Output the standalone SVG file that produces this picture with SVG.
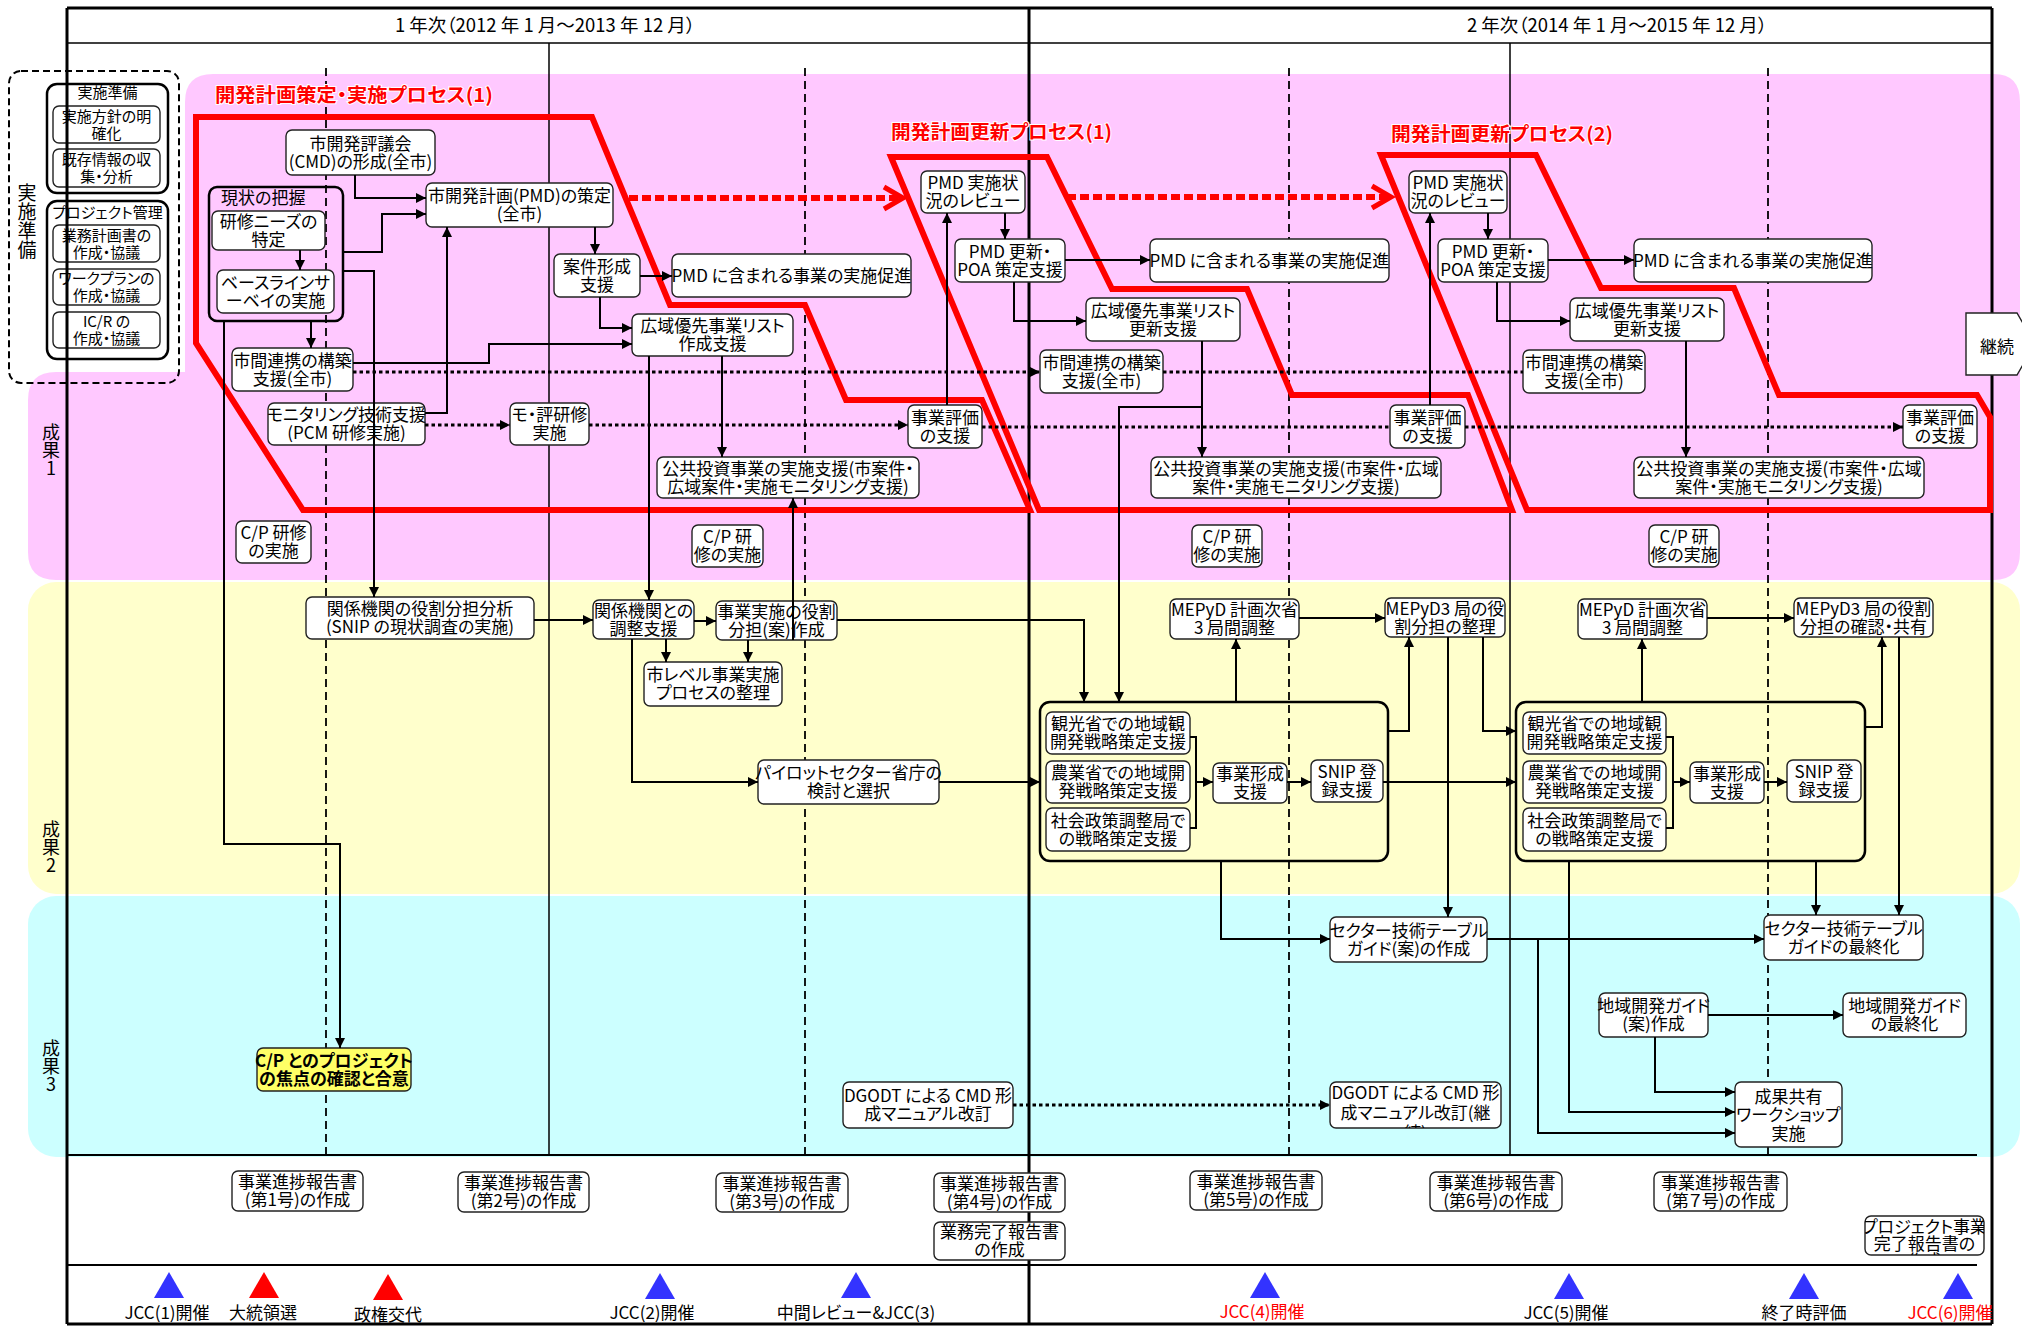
<svg xmlns="http://www.w3.org/2000/svg" width="2022" height="1330" viewBox="0 0 2022 1330">
<style>
.t{font-family:"Noto Sans CJK JP","Noto Sans",sans-serif;font-size:17px;text-anchor:middle;fill:#000;font-feature-settings:"palt"}
.s{font-size:15px}
.vl{font-family:"Noto Sans CJK JP","Noto Sans",sans-serif;font-size:18px;fill:#000;writing-mode:vertical-rl;text-orientation:upright;text-anchor:start}
.ttl{font-family:"Noto Sans CJK JP","Noto Sans",sans-serif;font-size:19px;font-weight:700;fill:#ff0000;stroke:#fff;stroke-width:2;paint-order:stroke;font-feature-settings:"palt"}
.n rect,.n polygon{fill:#fff;stroke:#222;stroke-width:1.4}
.grp rect{fill:none;stroke:#000;stroke-width:2.5}
.c path{fill:none;stroke:#000;stroke-width:2}
.c .dot{stroke-width:3;stroke-dasharray:3.5 3}
.proc{fill:none;stroke:#ff0000;stroke-width:6;stroke-linejoin:miter}
.rdot{fill:none;stroke:#ff0000;stroke-width:6;stroke-dasharray:9 4}
.chev{fill:none;stroke:#ff0000;stroke-width:5}
.dash{stroke:#000;stroke-width:1.8;stroke-dasharray:8 5}
.thin{stroke:#000;stroke-width:1.5}
.frame{stroke:#000;stroke-width:3;fill:none}
</style>
<defs>
<marker id="ah" viewBox="0 0 10 10" refX="10" refY="5" markerWidth="11" markerHeight="10" markerUnits="userSpaceOnUse" orient="auto">
<path d="M0,0 L10,5 L0,10 z" fill="#000"/>
</marker>
<clipPath id="clipD2"><rect x="1330" y="1082" width="171" height="46" rx="6"/></clipPath>
<clipPath id="clipPJ"><rect x="1865" y="1216" width="119" height="39" rx="6"/></clipPath>
</defs>

<rect x="0" y="0" width="2022" height="1330" fill="#fff"/>

<!-- output bands -->
<g id="bands">
<path d="M213,74 H1994 Q2020,74 2020,102 V552 Q2020,580 1994,580 H56 Q28,580 28,552 V400 Q28,372 56,372 H185 V102 Q185,74 213,74 Z" fill="#ffc8ff"/>
<rect x="28" y="582" width="1992" height="312" rx="28" fill="#ffffcc"/>
<rect x="28" y="896" width="1992" height="261" rx="28" fill="#ccffff"/>
</g>

<!-- side labels, set vertically -->
<g id="side-labels">
<text class="vl" x="27" y="183" style="font-size:19px">実施準備</text>
<text class="vl" x="51" y="423">成果1</text>
<text class="vl" x="51" y="820">成果2</text>
<text class="vl" x="51" y="1039">成果3</text>
</g>

<!-- frame and header -->
<g id="frame">
<line x1="67" y1="8" x2="1992" y2="8" class="frame"/>
<line x1="67" y1="43" x2="1992" y2="43" class="thin"/>
<line x1="67" y1="1155" x2="1977" y2="1155" stroke="#000" stroke-width="2"/>
<line x1="67" y1="1265" x2="1977" y2="1265" stroke="#000" stroke-width="2"/>
<line x1="67" y1="1324" x2="1992" y2="1324" class="frame"/>
<line x1="1992" y1="8" x2="1992" y2="1324" class="frame"/>
<line x1="1029" y1="8" x2="1029" y2="1324" class="frame"/>
<text class="t" x="545" y="32" style="font-size:18.5px">1 年次（2012 年 1 月～2013 年 12 月）</text>
<text class="t" x="1617" y="32" style="font-size:18.5px">2 年次（2014 年 1 月～2015 年 12 月）</text>
</g>

<!-- period grid -->
<g id="grid">
<line x1="326" y1="68" x2="326" y2="1155" class="dash"/>
<line x1="805" y1="68" x2="805" y2="1155" class="dash"/>
<line x1="1289" y1="68" x2="1289" y2="1155" class="dash"/>
<line x1="1768" y1="68" x2="1768" y2="1155" class="dash"/>
<line x1="549" y1="43" x2="549" y2="1155" class="thin"/>
<line x1="1510" y1="43" x2="1510" y2="1155" class="thin"/>
</g>

<!-- preparation block -->
<g id="prep">
<rect x="9" y="71" width="170" height="312" rx="12" fill="none" stroke="#000" stroke-width="2" stroke-dasharray="7 4"/>
<g id="prep-a" class="n grp">
<rect x="47" y="84" width="121" height="109" rx="10"/>
<text class="t s" x="107.5" y="98">実施準備</text>
</g>
<g id="prep-a1" class="n"><rect x="53" y="106" width="107" height="37" rx="6"/><text class="t s"><tspan x="106.5" y="121.5">実施方針の明</tspan><tspan x="106.5" y="138.5">確化</tspan></text></g>
<g id="prep-a2" class="n"><rect x="53" y="149" width="107" height="38" rx="6"/><text class="t s"><tspan x="106.5" y="165">既存情報の収</tspan><tspan x="106.5" y="182">集・分析</tspan></text></g>
<g id="prep-b" class="n grp">
<rect x="47" y="201" width="121" height="158" rx="10"/>
<text class="t s" x="107.5" y="218">プロジェクト管理</text>
</g>
<g id="prep-b1" class="n"><rect x="53" y="225" width="107" height="37" rx="6"/><text class="t s"><tspan x="106.5" y="240.5">業務計画書の</tspan><tspan x="106.5" y="257.5">作成・協議</tspan></text></g>
<g id="prep-b2" class="n"><rect x="53" y="269" width="107" height="36" rx="6"/><text class="t s"><tspan x="106.5" y="284">ワークプランの</tspan><tspan x="106.5" y="301">作成・協議</tspan></text></g>
<g id="prep-b3" class="n"><rect x="53" y="312" width="107" height="36" rx="6"/><text class="t s"><tspan x="106.5" y="327">IC/R の</tspan><tspan x="106.5" y="344">作成・協議</tspan></text></g>
</g>

<!-- process outlines -->
<g id="processes">
<path class="proc" d="M196,117 L592,117 L670,305 L805,305 L846,400 L982,400 L1030,510 L303,510 L196,343 Z"/>
<path class="proc" d="M891,157 L1047,157 L1112,289 L1247,289 L1292,395 L1468,395 L1512,510 L1039,510 Z"/>
<path class="proc" d="M1381,155 L1536,155 L1601,288 L1734,288 L1779,395 L1977,395 L1990,417 L1990,510 L1527,510 Z"/>
<path class="rdot" d="M629,198 H900"/>
<polyline class="chev" points="884,187 903,198 884,209"/>
<path class="rdot" d="M1067,197 H1388"/>
<polyline class="chev" points="1372,186 1391,197 1372,208"/>
<text class="ttl" x="215" y="102" textLength="278" lengthAdjust="spacingAndGlyphs">開発計画策定・実施プロセス(1)</text>
<text class="ttl" x="891" y="139" textLength="221" lengthAdjust="spacingAndGlyphs">開発計画更新プロセス(1)</text>
<text class="ttl" x="1391" y="141" textLength="222" lengthAdjust="spacingAndGlyphs">開発計画更新プロセス(2)</text>
</g>

<!-- output 1 nodes -->
<g id="n-cmd" class="n"><rect x="286" y="130" width="149" height="45" rx="6"/><text class="t"><tspan x="360.5" y="149.5">市開発評議会</tspan><tspan x="360.5" y="167.5">(CMD)の形成(全市)</tspan></text></g>
<g id="n-pmd" class="n"><rect x="426" y="183" width="187" height="44" rx="6"/><text class="t"><tspan x="519.5" y="202">市開発計画(PMD)の策定</tspan><tspan x="519.5" y="220">(全市)</tspan></text></g>
<g id="n-genjo" class="n grp"><rect x="209" y="187" width="134" height="134" rx="8"/><text class="t" x="221" y="204" style="text-anchor:start">現状の把握</text></g>
<g id="n-kenshu" class="n"><rect x="212" y="211" width="113" height="39" rx="6"/><text class="t"><tspan x="268.5" y="227.5">研修ニーズの</tspan><tspan x="268.5" y="245.5">特定</tspan></text></g>
<g id="n-baseline" class="n"><rect x="217" y="270" width="117" height="43" rx="6"/><text class="t"><tspan x="275.5" y="288.5">ベースラインサ</tspan><tspan x="275.5" y="306.5">ーベイの実施</tspan></text></g>
<g id="n-anken1" class="n"><rect x="554" y="254" width="86" height="43" rx="6"/><text class="t"><tspan x="597" y="272.5">案件形成</tspan><tspan x="597" y="290.5">支援</tspan></text></g>
<g id="n-sokushin1" class="n"><rect x="672" y="254" width="239" height="43" rx="6"/><text class="t" x="791.5" y="281.5">PMD に含まれる事業の実施促進</text></g>
<g id="n-koiki1" class="n"><rect x="632" y="314" width="161" height="42" rx="6"/><text class="t"><tspan x="712.5" y="332">広域優先事業リスト</tspan><tspan x="712.5" y="350">作成支援</tspan></text></g>
<g id="n-shikan1" class="n"><rect x="232" y="348" width="121" height="43" rx="6"/><text class="t"><tspan x="292.5" y="366.5">市間連携の構築</tspan><tspan x="292.5" y="384.5">支援(全市)</tspan></text></g>
<g id="n-monitor" class="n"><rect x="268" y="403" width="157" height="42" rx="6"/><text class="t"><tspan x="346.5" y="421">モニタリング技術支援</tspan><tspan x="346.5" y="439">(PCM 研修実施)</tspan></text></g>
<g id="n-moha" class="n"><rect x="510" y="403" width="79" height="42" rx="6"/><text class="t"><tspan x="549.5" y="421">モ・評研修</tspan><tspan x="549.5" y="439">実施</tspan></text></g>
<g id="n-hyoka1" class="n"><rect x="908" y="405" width="74" height="43" rx="6"/><text class="t"><tspan x="945" y="423.5">事業評価</tspan><tspan x="945" y="441.5">の支援</tspan></text></g>
<g id="n-kokyo1" class="n"><rect x="657" y="457" width="262" height="41" rx="6"/><text class="t"><tspan x="788" y="474.5">公共投資事業の実施支援(市案件・</tspan><tspan x="788" y="492.5">広域案件・実施モニタリング支援)</tspan></text></g>
<g id="n-cp1" class="n"><rect x="236" y="521" width="75" height="42" rx="6"/><text class="t"><tspan x="273.5" y="539">C/P 研修</tspan><tspan x="273.5" y="557">の実施</tspan></text></g>
<g id="n-cp2" class="n"><rect x="692" y="525" width="71" height="42" rx="6"/><text class="t"><tspan x="727.5" y="543">C/P 研</tspan><tspan x="727.5" y="561">修の実施</tspan></text></g>
<g id="n-review1" class="n"><rect x="921" y="171" width="104" height="42" rx="6"/><text class="t"><tspan x="973" y="189">PMD 実施状</tspan><tspan x="973" y="207">況のレビュー</tspan></text></g>
<g id="n-koshin1" class="n"><rect x="955" y="239" width="110" height="43" rx="6"/><text class="t"><tspan x="1010" y="257.5">PMD 更新・</tspan><tspan x="1010" y="275.5">POA 策定支援</tspan></text></g>
<g id="n-sokushin2" class="n"><rect x="1150" y="239" width="239" height="43" rx="6"/><text class="t" x="1269.5" y="266.5">PMD に含まれる事業の実施促進</text></g>
<g id="n-koiki2" class="n"><rect x="1086" y="298" width="154" height="43" rx="6"/><text class="t"><tspan x="1163" y="316.5">広域優先事業リスト</tspan><tspan x="1163" y="334.5">更新支援</tspan></text></g>
<g id="n-shikan2" class="n"><rect x="1040" y="350" width="123" height="43" rx="6"/><text class="t"><tspan x="1101.5" y="368.5">市間連携の構築</tspan><tspan x="1101.5" y="386.5">支援(全市)</tspan></text></g>
<g id="n-kokyo2" class="n"><rect x="1151" y="457" width="290" height="41" rx="6"/><text class="t"><tspan x="1296" y="474.5">公共投資事業の実施支援(市案件・広域</tspan><tspan x="1296" y="492.5">案件・実施モニタリング支援)</tspan></text></g>
<g id="n-cp3" class="n"><rect x="1192" y="525" width="70" height="42" rx="6"/><text class="t"><tspan x="1227" y="543">C/P 研</tspan><tspan x="1227" y="561">修の実施</tspan></text></g>
<g id="n-review2" class="n"><rect x="1409" y="171" width="98" height="42" rx="6"/><text class="t"><tspan x="1458" y="189">PMD 実施状</tspan><tspan x="1458" y="207">況のレビュー</tspan></text></g>
<g id="n-koshin2" class="n"><rect x="1438" y="239" width="110" height="43" rx="6"/><text class="t"><tspan x="1493" y="257.5">PMD 更新・</tspan><tspan x="1493" y="275.5">POA 策定支援</tspan></text></g>
<g id="n-sokushin3" class="n"><rect x="1634" y="239" width="238" height="43" rx="6"/><text class="t" x="1753" y="266.5">PMD に含まれる事業の実施促進</text></g>
<g id="n-koiki3" class="n"><rect x="1570" y="298" width="154" height="43" rx="6"/><text class="t"><tspan x="1647" y="316.5">広域優先事業リスト</tspan><tspan x="1647" y="334.5">更新支援</tspan></text></g>
<g id="n-shikan3" class="n"><rect x="1523" y="350" width="122" height="43" rx="6"/><text class="t"><tspan x="1584" y="368.5">市間連携の構築</tspan><tspan x="1584" y="386.5">支援(全市)</tspan></text></g>
<g id="n-hyoka2" class="n"><rect x="1390" y="405" width="75" height="43" rx="6"/><text class="t"><tspan x="1427.5" y="423.5">事業評価</tspan><tspan x="1427.5" y="441.5">の支援</tspan></text></g>
<g id="n-hyoka3" class="n"><rect x="1903" y="405" width="74" height="43" rx="6"/><text class="t"><tspan x="1940" y="423.5">事業評価</tspan><tspan x="1940" y="441.5">の支援</tspan></text></g>
<g id="n-kokyo3" class="n"><rect x="1634" y="457" width="290" height="41" rx="6"/><text class="t"><tspan x="1779" y="474.5">公共投資事業の実施支援(市案件・広域</tspan><tspan x="1779" y="492.5">案件・実施モニタリング支援)</tspan></text></g>
<g id="n-cp4" class="n"><rect x="1649" y="525" width="70" height="42" rx="6"/><text class="t"><tspan x="1684" y="543">C/P 研</tspan><tspan x="1684" y="561">修の実施</tspan></text></g>
<g id="n-keizoku" class="n"><polygon points="1966,313 2017,313 2035,344 2017,375 1966,375"/><text class="t" x="1997" y="353">継続</text></g>

<!-- output 2 nodes -->
<g id="n-yakuwari" class="n"><rect x="306" y="597" width="228" height="42" rx="6"/><text class="t"><tspan x="420" y="615">関係機関の役割分担分析</tspan><tspan x="420" y="633">(SNIP の現状調査の実施)</tspan></text></g>
<g id="n-chosei" class="n"><rect x="593" y="600" width="101" height="39" rx="6"/><text class="t"><tspan x="643.5" y="616.5">関係機関との</tspan><tspan x="643.5" y="634.5">調整支援</tspan></text></g>
<g id="n-jigyo" class="n"><rect x="716" y="601" width="121" height="39" rx="6"/><text class="t"><tspan x="776.5" y="617.5">事業実施の役割</tspan><tspan x="776.5" y="635.5">分担(案)作成</tspan></text></g>
<g id="n-shilevel" class="n"><rect x="644" y="662" width="138" height="44" rx="6"/><text class="t"><tspan x="713" y="681">市レベル事業実施</tspan><tspan x="713" y="699">プロセスの整理</tspan></text></g>
<g id="n-pilot" class="n"><rect x="758" y="760" width="181" height="44" rx="6"/><text class="t"><tspan x="848.5" y="779">パイロットセクター省庁の</tspan><tspan x="848.5" y="797">検討と選択</tspan></text></g>
<g id="n-grp1" class="grp"><rect x="1040" y="702" width="348" height="159" rx="10"/></g>
<g id="n-kanko1" class="n"><rect x="1046" y="712" width="144" height="42" rx="6"/><text class="t"><tspan x="1118" y="730">観光省での地域観</tspan><tspan x="1118" y="748">開発戦略策定支援</tspan></text></g>
<g id="n-nogyo1" class="n"><rect x="1046" y="761" width="144" height="42" rx="6"/><text class="t"><tspan x="1118" y="779">農業省での地域開</tspan><tspan x="1118" y="797">発戦略策定支援</tspan></text></g>
<g id="n-shakai1" class="n"><rect x="1046" y="808" width="144" height="43" rx="6"/><text class="t"><tspan x="1118" y="826.5">社会政策調整局で</tspan><tspan x="1118" y="844.5">の戦略策定支援</tspan></text></g>
<g id="n-keisei1" class="n"><rect x="1213" y="763" width="74" height="40" rx="6"/><text class="t"><tspan x="1250" y="780">事業形成</tspan><tspan x="1250" y="798">支援</tspan></text></g>
<g id="n-snip1" class="n"><rect x="1311" y="760" width="72" height="42" rx="6"/><text class="t"><tspan x="1347" y="778">SNIP 登</tspan><tspan x="1347" y="796">録支援</tspan></text></g>
<g id="n-mepyd1" class="n"><rect x="1170" y="599" width="129" height="40" rx="6"/><text class="t"><tspan x="1234.5" y="616">MEPyD 計画次省</tspan><tspan x="1234.5" y="634">3 局間調整</tspan></text></g>
<g id="n-mepyd3a" class="n"><rect x="1385" y="598" width="120" height="39" rx="6"/><text class="t"><tspan x="1445" y="614.5">MEPyD3 局の役</tspan><tspan x="1445" y="632.5">割分担の整理</tspan></text></g>
<g id="n-grp2" class="grp"><rect x="1516" y="702" width="349" height="159" rx="10"/></g>
<g id="n-kanko2" class="n"><rect x="1523" y="712" width="143" height="42" rx="6"/><text class="t"><tspan x="1594.5" y="730">観光省での地域観</tspan><tspan x="1594.5" y="748">開発戦略策定支援</tspan></text></g>
<g id="n-nogyo2" class="n"><rect x="1523" y="761" width="143" height="42" rx="6"/><text class="t"><tspan x="1594.5" y="779">農業省での地域開</tspan><tspan x="1594.5" y="797">発戦略策定支援</tspan></text></g>
<g id="n-shakai2" class="n"><rect x="1523" y="808" width="143" height="43" rx="6"/><text class="t"><tspan x="1594.5" y="826.5">社会政策調整局で</tspan><tspan x="1594.5" y="844.5">の戦略策定支援</tspan></text></g>
<g id="n-keisei2" class="n"><rect x="1690" y="762" width="74" height="41" rx="6"/><text class="t"><tspan x="1727" y="779.5">事業形成</tspan><tspan x="1727" y="797.5">支援</tspan></text></g>
<g id="n-snip2" class="n"><rect x="1787" y="760" width="74" height="42" rx="6"/><text class="t"><tspan x="1824" y="778">SNIP 登</tspan><tspan x="1824" y="796">録支援</tspan></text></g>
<g id="n-mepyd2" class="n"><rect x="1578" y="599" width="129" height="40" rx="6"/><text class="t"><tspan x="1642.5" y="616">MEPyD 計画次省</tspan><tspan x="1642.5" y="634">3 局間調整</tspan></text></g>
<g id="n-mepyd3b" class="n"><rect x="1794" y="598" width="139" height="39" rx="6"/><text class="t"><tspan x="1863.5" y="614.5">MEPyD3 局の役割</tspan><tspan x="1863.5" y="632.5">分担の確認・共有</tspan></text></g>

<!-- output 3 nodes -->
<g id="n-cpfocus" class="n"><rect x="257" y="1048" width="154" height="43" rx="6" style="fill:#ffff66"/><text class="t" style="font-weight:700"><tspan x="334" y="1066.5">C/P とのプロジェクト</tspan><tspan x="334" y="1084.5">の焦点の確認と合意</tspan></text></g>
<g id="n-dgodt1" class="n"><rect x="843" y="1082" width="170" height="46" rx="6"/><text class="t"><tspan x="928" y="1102">DGODT による CMD 形</tspan><tspan x="928" y="1120">成マニュアル改訂</tspan></text></g>
<g id="n-dgodt2" class="n"><rect x="1330" y="1082" width="171" height="46" rx="6"/><text class="t" clip-path="url(#clipD2)"><tspan x="1415.5" y="1099">DGODT による CMD 形</tspan><tspan x="1415.5" y="1119">成マニュアル改訂(継</tspan><tspan x="1415.5" y="1139">続)</tspan></text></g>
<g id="n-sector1" class="n"><rect x="1330" y="917" width="157" height="45" rx="6"/><text class="t"><tspan x="1408.5" y="936.5">セクター技術テーブル</tspan><tspan x="1408.5" y="954.5">ガイド(案)の作成</tspan></text></g>
<g id="n-sector2" class="n"><rect x="1764" y="915" width="159" height="45" rx="6"/><text class="t"><tspan x="1843.5" y="934.5">セクター技術テーブル</tspan><tspan x="1843.5" y="952.5">ガイドの最終化</tspan></text></g>
<g id="n-chiiki1" class="n"><rect x="1599" y="993" width="109" height="44" rx="6"/><text class="t"><tspan x="1653.5" y="1012">地域開発ガイド</tspan><tspan x="1653.5" y="1030">(案)作成</tspan></text></g>
<g id="n-chiiki2" class="n"><rect x="1843" y="993" width="123" height="44" rx="6"/><text class="t"><tspan x="1904.5" y="1012">地域開発ガイド</tspan><tspan x="1904.5" y="1030">の最終化</tspan></text></g>
<g id="n-seika" class="n"><rect x="1735" y="1082" width="107" height="65" rx="6"/><text class="t"><tspan x="1788.5" y="1102.5">成果共有</tspan><tspan x="1788.5" y="1121">ワークショップ</tspan><tspan x="1788.5" y="1139.5">実施</tspan></text></g>

<!-- reports -->
<g id="n-r1" class="n"><rect x="232" y="1171" width="131" height="40" rx="6"/><text class="t"><tspan x="297.5" y="1188">事業進捗報告書</tspan><tspan x="297.5" y="1206">(第1号)の作成</tspan></text></g>
<g id="n-r2" class="n"><rect x="458" y="1172" width="131" height="40" rx="6"/><text class="t"><tspan x="523.5" y="1189">事業進捗報告書</tspan><tspan x="523.5" y="1207">(第2号)の作成</tspan></text></g>
<g id="n-r3" class="n"><rect x="716" y="1173" width="132" height="39" rx="6"/><text class="t"><tspan x="782" y="1189.5">事業進捗報告書</tspan><tspan x="782" y="1207.5">(第3号)の作成</tspan></text></g>
<g id="n-r4" class="n"><rect x="934" y="1173" width="131" height="39" rx="6"/><text class="t"><tspan x="999.5" y="1189.5">事業進捗報告書</tspan><tspan x="999.5" y="1207.5">(第4号)の作成</tspan></text></g>
<g id="n-kanryo" class="n"><rect x="934" y="1222" width="131" height="38" rx="6"/><text class="t"><tspan x="999.5" y="1238">業務完了報告書</tspan><tspan x="999.5" y="1256">の作成</tspan></text></g>
<g id="n-r5" class="n"><rect x="1190" y="1171" width="132" height="39" rx="6"/><text class="t"><tspan x="1256" y="1187.5">事業進捗報告書</tspan><tspan x="1256" y="1205.5">(第5号)の作成</tspan></text></g>
<g id="n-r6" class="n"><rect x="1430" y="1172" width="132" height="39" rx="6"/><text class="t"><tspan x="1496" y="1188.5">事業進捗報告書</tspan><tspan x="1496" y="1206.5">(第6号)の作成</tspan></text></g>
<g id="n-r7" class="n"><rect x="1654" y="1172" width="133" height="39" rx="6"/><text class="t"><tspan x="1720.5" y="1188.5">事業進捗報告書</tspan><tspan x="1720.5" y="1206.5">(第７号)の作成</tspan></text></g>
<g id="n-pj" class="n"><rect x="1865" y="1216" width="119" height="39" rx="6"/><text class="t" clip-path="url(#clipPJ)"><tspan x="1924.5" y="1233">プロジェクト事業</tspan><tspan x="1924.5" y="1250">完了報告書の</tspan><tspan x="1924.5" y="1267">作成</tspan></text></g>

<!-- connectors -->
<g id="connectors" class="c">
<path d="M355,175 V198 H426" marker-end="url(#ah)"/>
<path d="M343,252 H382 V214 H426" marker-end="url(#ah)"/>
<path d="M343,271 H374 V597" marker-end="url(#ah)"/>
<path d="M300,250 V270" marker-end="url(#ah)"/>
<path d="M311,321 V348" marker-end="url(#ah)"/>
<path d="M224,321 V844 H340 V1048" marker-end="url(#ah)"/>
<path d="M353,363 H489 V344 H632" marker-end="url(#ah)"/>
<path class="dot" d="M353,372 H1040" marker-end="url(#ah)"/>
<path class="dot" d="M1163,372 H1523"/>
<path d="M425,413 H447 V227" marker-end="url(#ah)"/>
<path class="dot" d="M425,425 H510" marker-end="url(#ah)"/>
<path class="dot" d="M589,425 H908" marker-end="url(#ah)"/>
<path class="dot" d="M982,427 H1390"/>
<path class="dot" d="M1465,427 H1903" marker-end="url(#ah)"/>
<path d="M595,227 V254" marker-end="url(#ah)"/>
<path d="M640,276 H672" marker-end="url(#ah)"/>
<path d="M600,297 V328 H632" marker-end="url(#ah)"/>
<path d="M649,356 V600" marker-end="url(#ah)"/>
<path d="M722,356 V457" marker-end="url(#ah)"/>
<path d="M534,620 H593" marker-end="url(#ah)"/>
<path d="M694,621 H716" marker-end="url(#ah)"/>
<path d="M666,639 V662" marker-end="url(#ah)"/>
<path d="M748,640 V662" marker-end="url(#ah)"/>
<path d="M632,639 V782 H758" marker-end="url(#ah)"/>
<path d="M793,640 V498" marker-end="url(#ah)"/>
<path d="M837,620 H1084 V702" marker-end="url(#ah)"/>
<path d="M939,782 H1040" marker-end="url(#ah)"/>
<path d="M947,405 V213" marker-end="url(#ah)"/>
<path d="M1005,213 V239" marker-end="url(#ah)"/>
<path d="M1065,260 H1150" marker-end="url(#ah)"/>
<path d="M1014,282 V321 H1086" marker-end="url(#ah)"/>
<path d="M1202,341 V457" marker-end="url(#ah)"/>
<path d="M1202,407 H1119 V702" marker-end="url(#ah)"/>
<path d="M1190,737 H1196 V828 H1190"/>
<path d="M1196,782 H1213" marker-end="url(#ah)"/>
<path d="M1287,782 H1311" marker-end="url(#ah)"/>
<path d="M1236,702 V639" marker-end="url(#ah)"/>
<path d="M1299,618 H1385" marker-end="url(#ah)"/>
<path d="M1388,731 H1409 V637" marker-end="url(#ah)"/>
<path d="M1448,637 V917" marker-end="url(#ah)"/>
<path d="M1483,637 V731 H1516" marker-end="url(#ah)"/>
<path d="M1383,782 H1516" marker-end="url(#ah)"/>
<path d="M1221,861 V939 H1330" marker-end="url(#ah)"/>
<path class="dot" d="M1013,1105 H1330" marker-end="url(#ah)"/>
<path d="M1430,405 V213" marker-end="url(#ah)"/>
<path d="M1488,213 V239" marker-end="url(#ah)"/>
<path d="M1548,260 H1634" marker-end="url(#ah)"/>
<path d="M1497,282 V321 H1570" marker-end="url(#ah)"/>
<path d="M1686,341 V457" marker-end="url(#ah)"/>
<path d="M1666,737 H1673 V828 H1666"/>
<path d="M1673,782 H1690" marker-end="url(#ah)"/>
<path d="M1764,782 H1787" marker-end="url(#ah)"/>
<path d="M1642,702 V639" marker-end="url(#ah)"/>
<path d="M1707,618 H1794" marker-end="url(#ah)"/>
<path d="M1865,727 H1882 V637" marker-end="url(#ah)"/>
<path d="M1899,637 V915" marker-end="url(#ah)"/>
<path d="M1816,861 V915" marker-end="url(#ah)"/>
<path d="M1569,861 V1112 H1735" marker-end="url(#ah)"/>
<path d="M1487,939 H1764" marker-end="url(#ah)"/>
<path d="M1538,939 V1133 H1735" marker-end="url(#ah)"/>
<path d="M1708,1015 H1843" marker-end="url(#ah)"/>
<path d="M1655,1037 V1092 H1735" marker-end="url(#ah)"/>
</g>

<!-- milestones -->
<g id="milestones">
<polygon points="169,1272 184,1298 154,1298" fill="#3333ff"/>
<polygon points="264,1272 279,1298 249,1298" fill="#ff0000"/>
<polygon points="388,1274 403,1300 373,1300" fill="#ff0000"/>
<polygon points="660,1273 675,1299 645,1299" fill="#3333ff"/>
<polygon points="856,1272 871,1298 841,1298" fill="#3333ff"/>
<polygon points="1265,1272 1280,1298 1250,1298" fill="#3333ff"/>
<polygon points="1569,1273 1584,1299 1554,1299" fill="#3333ff"/>
<polygon points="1804,1273 1819,1299 1789,1299" fill="#3333ff"/>
<polygon points="1958,1273 1973,1299 1943,1299" fill="#3333ff"/>
<text class="t" x="167" y="1319">JCC(1)開催</text>
<text class="t" x="263" y="1319">大統領選</text>
<text class="t" x="388" y="1321">政権交代</text>
<text class="t" x="652" y="1319">JCC(2)開催</text>
<text class="t" x="856" y="1319">中間レビュー&amp;JCC(3)</text>
<text class="t" x="1262" y="1318" style="fill:#ff0000">JCC(4)開催</text>
<text class="t" x="1566" y="1319">JCC(5)開催</text>
<text class="t" x="1804" y="1319">終了時評価</text>
<text class="t" x="1950" y="1319" style="fill:#ff0000">JCC(6)開催</text>
</g>

<!-- left frame edge, drawn last so it runs across the preparation boxes -->
<line x1="67" y1="8" x2="67" y2="1324" class="frame"/>
</svg>
